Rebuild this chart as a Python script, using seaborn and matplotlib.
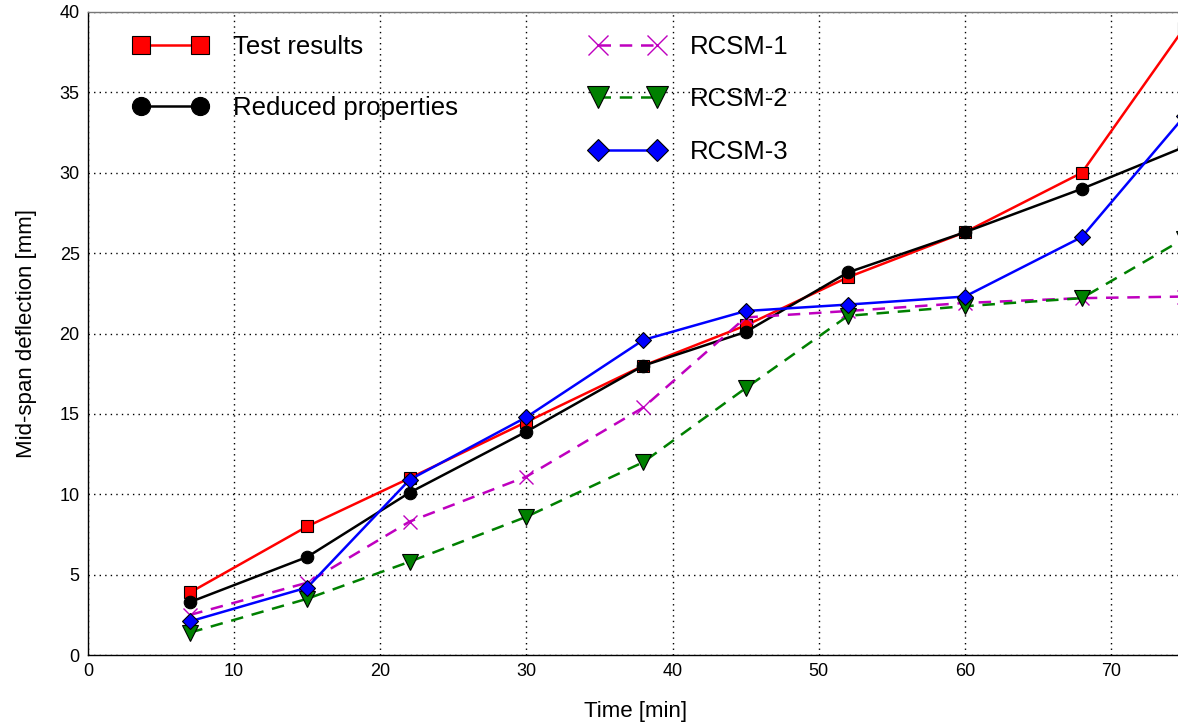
import numpy as np
import pandas as pd
import matplotlib
matplotlib.use("Agg")
import matplotlib.pyplot as plt
import seaborn as sns

# Data
time_min = [7, 15, 22, 30, 38, 45, 52, 60, 68, 75]
test_results = [3.9, 8.0, 11.0, 14.5, 18.0, 20.5, 23.5, 26.3, 30.0, 39.0]
reduced_props = [3.3, 6.1, 10.1, 13.9, 18.0, 20.1, 23.8, 26.3, 29.0, 31.6]
rcsm_1 = [2.5, 4.5, 8.3, 11.1, 15.4, 21.0, 21.4, 21.9, 22.2, 22.3]
rcsm_2 = [1.4, 3.5, 5.8, 8.6, 12.0, 16.6, 21.1, 21.7, 22.2, 25.9]
rcsm_3 = [2.1, 4.2, 10.9, 14.8, 19.6, 21.4, 21.8, 22.3, 26.0, 33.5]

x_ticks = [0, 10, 20, 30, 40, 50, 60, 70]
y_ticks = [0, 5, 10, 15, 20, 25, 30, 35, 40]

sns.set_style("white")
plt.rcParams['font.family'] = ['Liberation Sans', 'DejaVu Sans']
plt.rcParams['text.color'] = 'black'
plt.rcParams['axes.labelcolor'] = 'black'
plt.rcParams['xtick.color'] = 'black'
plt.rcParams['ytick.color'] = 'black'

fig = plt.figure(figsize=(11.78, 7.27), dpi=100)
ax = fig.add_axes([0.0747, 0.099, 0.9305, 0.8845])

series = [
    ("Test results", test_results, "red", "s", "-", "black", 9),
    ("Reduced properties", reduced_props, "black", "o", "-", "black", 9),
    ("RCSM-1", rcsm_1, "m", "x", "--", "m", 10),
    ("RCSM-2", rcsm_2, "green", "v", "--", "black", 11),
    ("RCSM-3", rcsm_3, "blue", "D", "-", "black", 8),
]

for name, vals, col, mk, ls, mec, ms in series:
    df = pd.DataFrame({"time": time_min, "defl": vals})
    line_kw = dict(dashes=(5, 3.5)) if ls == "--" else dict(linestyle="-")
    sns.lineplot(data=df, x="time", y="defl", ax=ax, color=col, marker=mk,
                 linewidth=1.8, markersize=ms,
                 markeredgecolor=mec, markerfacecolor=col,
                 markeredgewidth=0.8 if mk != "x" else 1.0,
                 label=name, zorder=3, **line_kw)

ax.set_xlim(0, 75)
ax.set_ylim(0, 40)
ax.set_xticks(x_ticks)
ax.set_yticks(y_ticks)
ax.grid(True, linestyle=(0, (1, 3)), color="black", linewidth=1.0)
ax.tick_params(axis="both", labelsize=13, length=0, pad=6)

for s in ["left", "bottom"]:
    ax.spines[s].set_color("black")
    ax.spines[s].set_linewidth(1.0)
ax.spines["top"].set_color("#777777")
ax.spines["top"].set_linewidth(1.0)
ax.spines["right"].set_visible(False)

ax.set_xlabel("Time [min]", fontsize=16, labelpad=15)
ax.set_ylabel("Mid-span deflection [mm]", fontsize=16, labelpad=16)

handles, labels = ax.get_legend_handles_labels()
if ax.get_legend():
    ax.get_legend().remove()

leg1 = ax.legend(handles[:2], labels[:2], loc="upper left", bbox_to_anchor=(0.02, 1.0),
                 frameon=False, fontsize=18.5, numpoints=2, handlelength=2.9,
                 handletextpad=1.0, labelspacing=1.45, markerscale=1.45)
ax.add_artist(leg1)
leg2 = ax.legend(handles[2:], labels[2:], loc="upper left", bbox_to_anchor=(0.437, 1.0),
                 frameon=False, fontsize=18.5, numpoints=2, handlelength=2.9,
                 handletextpad=1.0, labelspacing=1.1, markerscale=1.45)

fig.savefig("out.png", dpi=100)
